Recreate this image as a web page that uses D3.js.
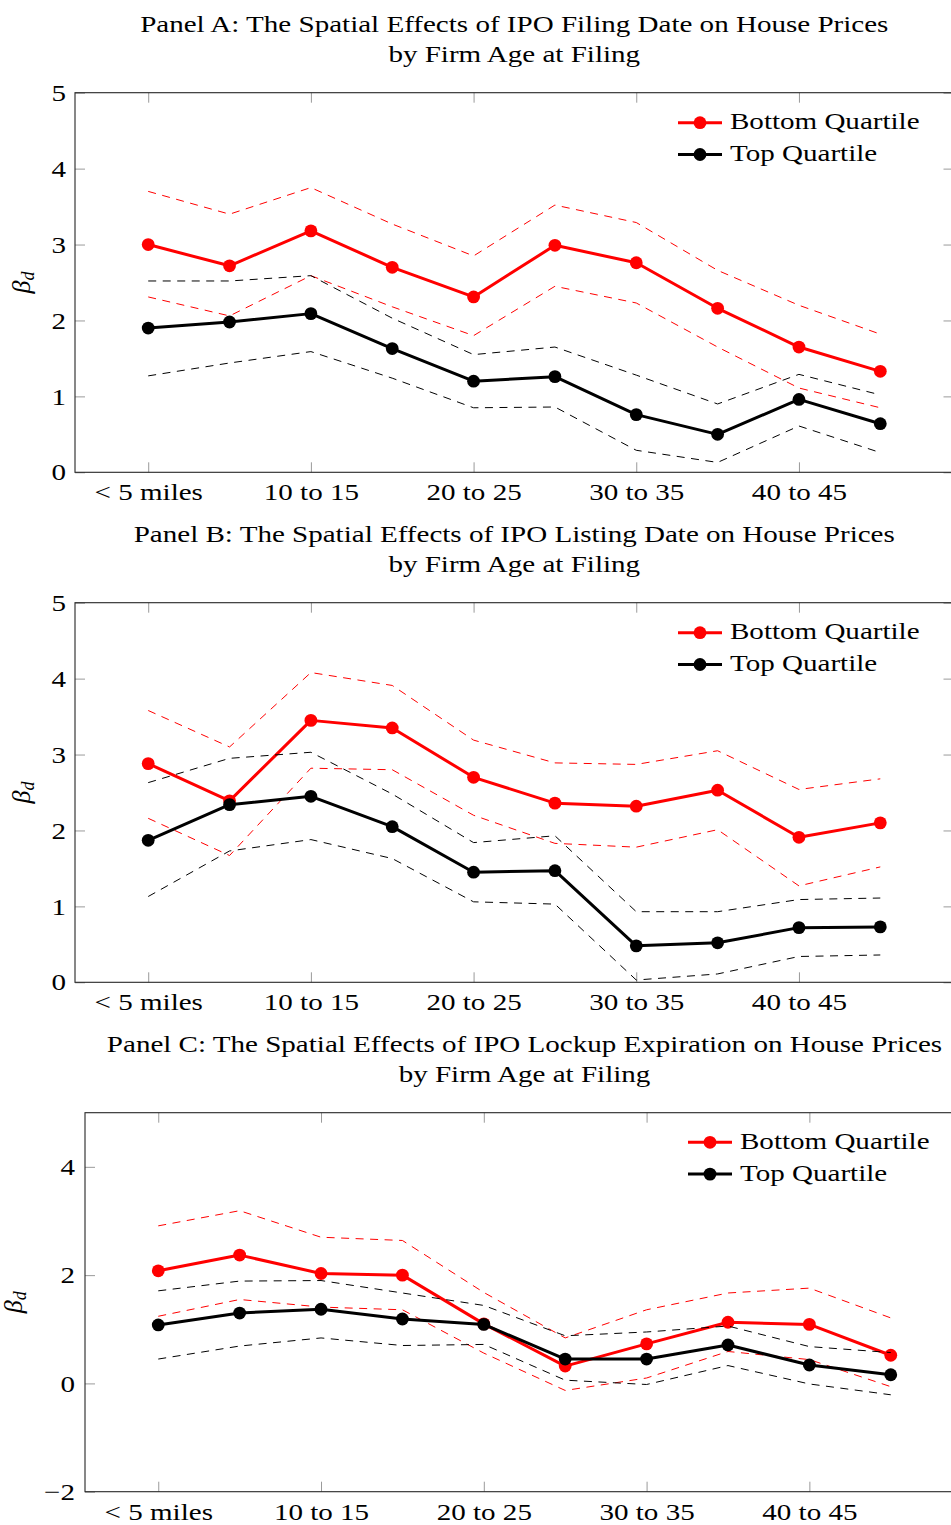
<!DOCTYPE html>
<html>
<head>
<meta charset="utf-8">
<script src="https://cdn.jsdelivr.net/npm/d3@7"></script>
<style>
  html, body { margin: 0; padding: 0; background: #fff; }
  svg { display: block; font-family: "Liberation Serif", "Times New Roman", serif; }
</style>
</head>
<body>
<svg id="chart" width="951" height="1525"></svg>
<script>
// Distance bands (x categories) and the labelled subset
const distanceBands = ["< 5 miles", "5 to 10", "10 to 15", "15 to 20", "20 to 25",
                       "25 to 30", "30 to 35", "35 to 40", "40 to 45", "45 to 50"];
const tickBands = ["< 5 miles", "10 to 15", "20 to 25", "30 to 35", "40 to 45"];

const panelTitles = [
  "Panel A: The Spatial Effects of IPO Filing Date on House Prices",
  "Panel B: The Spatial Effects of IPO Listing Date on House Prices",
  "Panel C: The Spatial Effects of IPO Lockup Expiration on House Prices"
];
const panelSubtitle = "by Firm Age at Filing";
const seriesNames = ["Bottom Quartile", "Top Quartile"];

// Panel A: IPO filing date
const filingBottom   = [3.00, 2.72, 3.18, 2.70, 2.31, 2.99, 2.76, 2.16, 1.65, 1.33];
const filingBottomHi = [3.70, 3.40, 3.75, 3.27, 2.85, 3.52, 3.29, 2.66, 2.20, 1.82];
const filingBottomLo = [2.31, 2.06, 2.59, 2.18, 1.80, 2.45, 2.23, 1.65, 1.11, 0.85];
const filingTop      = [1.90, 1.98, 2.09, 1.63, 1.20, 1.26, 0.76, 0.50, 0.96, 0.64];
const filingTopHi    = [2.52, 2.52, 2.59, 2.03, 1.55, 1.65, 1.28, 0.90, 1.29, 1.02];
const filingTopLo    = [1.27, 1.44, 1.59, 1.24, 0.85, 0.86, 0.29, 0.13, 0.61, 0.26];

// Panel B: IPO listing date
const listingBottom   = [2.88, 2.39, 3.45, 3.35, 2.70, 2.36, 2.32, 2.53, 1.91, 2.10];
const listingBottomHi = [3.58, 3.10, 4.08, 3.91, 3.19, 2.89, 2.87, 3.05, 2.54, 2.68];
const listingBottomLo = [2.16, 1.67, 2.82, 2.80, 2.20, 1.83, 1.78, 2.01, 1.27, 1.52];
const listingTop      = [1.87, 2.34, 2.45, 2.05, 1.45, 1.47, 0.48, 0.52, 0.72, 0.73];
const listingTopHi    = [2.63, 2.95, 3.03, 2.48, 1.84, 1.93, 0.93, 0.93, 1.09, 1.11];
const listingTopLo    = [1.13, 1.73, 1.88, 1.63, 1.06, 1.03, 0.03, 0.11, 0.34, 0.36];

// Panel C: lockup expiration
const lockupBottom   = [2.08, 2.37, 2.03, 2.00, 1.10, 0.32, 0.73, 1.13, 1.09, 0.52];
const lockupBottomHi = [2.91, 3.19, 2.70, 2.64, 1.68, 0.84, 1.36, 1.67, 1.76, 1.21];
const lockupBottomLo = [1.24, 1.55, 1.41, 1.36, 0.56, -0.13, 0.10, 0.59, 0.44, -0.06];
const lockupTop      = [1.08, 1.30, 1.37, 1.19, 1.09, 0.45, 0.45, 0.71, 0.34, 0.16];
const lockupTopHi    = [1.71, 1.89, 1.90, 1.67, 1.44, 0.88, 0.95, 1.06, 0.68, 0.57];
const lockupTopLo    = [0.45, 0.69, 0.84, 0.70, 0.72, 0.06, -0.02, 0.33, -0.01, -0.21];

const yTicksAB = [0, 1, 2, 3, 4, 5];
const yTicksC  = [-2, 0, 2, 4];

// Layout of the three stacked panels
const panels = [
  { title: panelTitles[0], left: 75, top: 92.7, width: 878.5, height: 379.6,
    yDomain: [0, 5], yTicks: yTicksAB, tickPad: 9, labelX: 30, legendX: 678, legendY: 122.7,
    lowQ: [filingBottom, filingBottomHi, filingBottomLo],
    highQ: [filingTop, filingTopHi, filingTopLo] },
  { title: panelTitles[1], left: 75, top: 602.7, width: 878.5, height: 379.6,
    yDomain: [0, 5], yTicks: yTicksAB, tickPad: 9, labelX: 30, legendX: 678, legendY: 632.7,
    lowQ: [listingBottom, listingBottomHi, listingBottomLo],
    highQ: [listingTop, listingTopHi, listingTopLo] },
  { title: panelTitles[2], left: 85, top: 1112.7, width: 879, height: 379,
    yDomain: [-2, 5], yTicks: yTicksC, tickPad: 10, labelX: 22, legendX: 688, legendY: 1142.3,
    lowQ: [lockupBottom, lockupBottomHi, lockupBottomLo],
    highQ: [lockupTop, lockupTopHi, lockupTopLo] }
];

const RED = "#ff0000", BLACK = "#000000";
const FONT = 24;
const svg = d3.select("#chart");

function fmtTick(v) { return v < 0 ? "\u2212" + Math.abs(v) : String(v); }

panels.forEach(p => {
  const g = svg.append("g");
  const x = d3.scalePoint().domain(distanceBands)
    .range([p.left, p.left + p.width]).padding(0.9);
  const y = d3.scaleLinear().domain(p.yDomain)
    .range([p.top + p.height, p.top]);
  const cx = p.left + p.width / 2;

  // Titles
  g.append("text").attr("class", "lbl").attr("x", cx).attr("y", p.top - 61.2)
    .attr("text-anchor", "middle").attr("font-size", FONT).text(p.title);
  g.append("text").attr("class", "lbl").attr("x", cx).attr("y", p.top - 30.7)
    .attr("text-anchor", "middle").attr("font-size", FONT).text(panelSubtitle);

  // Axes with inward ticks on all four sides
  const styleAxis = sel => {
    sel.attr("font-size", null).attr("font-family", null);
    sel.select(".domain").remove();
    sel.selectAll("line").attr("stroke", "#9a9a9a").attr("stroke-width", 1);
    sel.selectAll("text").attr("class", "lbl").attr("font-size", FONT).attr("fill", "#000");
  };
  g.append("g").attr("transform", `translate(0,${p.top + p.height})`)
    .call(d3.axisBottom(x).tickValues(tickBands).tickSize(-10).tickPadding(11))
    .call(styleAxis);
  g.append("g").attr("transform", `translate(0,${p.top})`)
    .call(d3.axisTop(x).tickValues(tickBands).tickSize(-10).tickFormat(""))
    .call(styleAxis);
  g.append("g").attr("transform", `translate(${p.left},0)`)
    .call(d3.axisLeft(y).tickValues(p.yTicks).tickSize(-10).tickPadding(p.tickPad).tickFormat(fmtTick))
    .call(styleAxis);
  g.append("g").attr("transform", `translate(${p.left + p.width},0)`)
    .call(d3.axisRight(y).tickValues(p.yTicks).tickSize(-10).tickFormat(""))
    .call(styleAxis);

  // Frame
  g.append("rect").attr("x", p.left).attr("y", p.top)
    .attr("width", p.width).attr("height", p.height)
    .attr("fill", "none").attr("stroke", "#262626").attr("stroke-width", 1.1);

  // Y label: beta_d
  const yl = g.append("text")
    .attr("transform", `translate(${p.labelX},${p.top + p.height / 2}) rotate(-90)`)
    .attr("text-anchor", "middle").attr("font-size", 26).attr("font-style", "italic");
  yl.append("tspan").text("\u03B2");
  yl.append("tspan").attr("font-size", 18).attr("dy", 4).text("d");

  const line = d3.line().x((d, i) => x(distanceBands[i])).y(d => y(d));

  const drawSeries = (set, color) => {
    g.append("path").datum(set[0]).attr("d", line).attr("fill", "none")
      .attr("stroke", color).attr("stroke-width", 3).attr("stroke-linejoin", "round");
    g.append("g").selectAll("circle").data(set[0]).join("circle")
      .attr("cx", (d, i) => x(distanceBands[i])).attr("cy", d => y(d))
      .attr("r", 6.4).attr("fill", color);
    [set[1], set[2]].forEach(band => {
      g.append("path").datum(band).attr("d", line).attr("fill", "none")
        .attr("stroke", color).attr("stroke-width", 1)
        .attr("stroke-dasharray", "8,6.5");
    });
  };
  drawSeries(p.lowQ, RED);
  drawSeries(p.highQ, BLACK);

  // Legend
  [RED, BLACK].forEach((color, k) => {
    const ly = p.legendY + k * 31.8;
    g.append("line").attr("x1", p.legendX).attr("x2", p.legendX + 44)
      .attr("y1", ly).attr("y2", ly).attr("stroke", color).attr("stroke-width", 3);
    g.append("circle").attr("cx", p.legendX + 22).attr("cy", ly).attr("r", 6.4).attr("fill", color);
    g.append("text").attr("class", "lbl").attr("x", p.legendX + 52).attr("y", ly + 6.7)
      .attr("font-size", FONT).text(seriesNames[k]);
  });
});

// Widen the serif glyphs toward the Computer Modern proportions
svg.selectAll("text.lbl").each(function () {
  const w = this.getComputedTextLength();
  if (w > 0) d3.select(this).attr("textLength", w * 1.21).attr("lengthAdjust", "spacingAndGlyphs");
});
</script>
</body>
</html>
